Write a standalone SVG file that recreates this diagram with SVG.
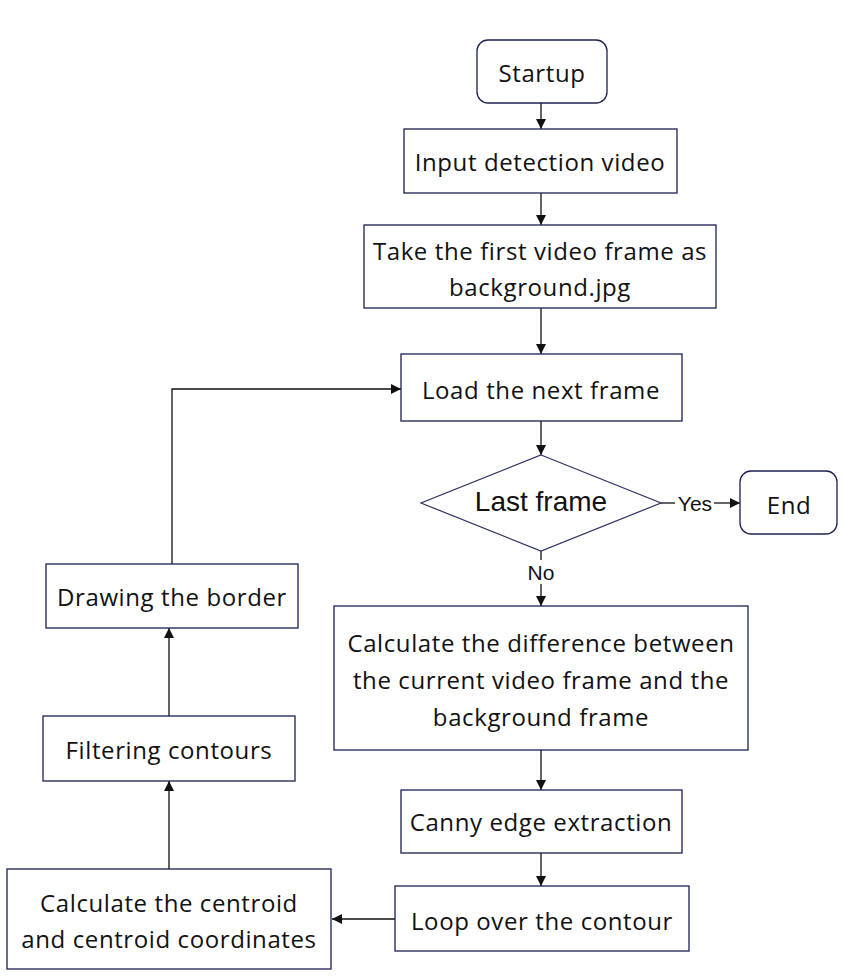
<svg xmlns="http://www.w3.org/2000/svg" width="844" height="977" viewBox="0 0 844 977">
<style>
.box{fill:#fff;stroke:#1c1f52;stroke-width:1.3}
.dia{fill:#fff;stroke:#2e3266;stroke-width:1.2}
.t{font-family:"Open Sans",Lato,sans-serif;font-size:24px;letter-spacing:0.6px;fill:#111;text-anchor:middle;dominant-baseline:central}
.a{font-family:"Liberation Sans",Arial,sans-serif;fill:#111;text-anchor:middle;dominant-baseline:central}
.ln{fill:none;stroke:#111;stroke-width:1.3}
</style>
<defs>
<marker id="ah" viewBox="0 0 10 10" refX="10" refY="5" markerWidth="10" markerHeight="10" markerUnits="userSpaceOnUse" orient="auto">
<path d="M0,0 L10,5 L0,10 Z" fill="#111"/>
</marker>
</defs>
<g id="connectors">
<line class="ln" x1="541" y1="103" x2="541" y2="129" marker-end="url(#ah)"/>
<line class="ln" x1="541" y1="193" x2="541" y2="225" marker-end="url(#ah)"/>
<line class="ln" x1="541" y1="308" x2="541" y2="354" marker-end="url(#ah)"/>
<line class="ln" x1="541" y1="421" x2="541" y2="455" marker-end="url(#ah)"/>
<line class="ln" x1="661" y1="503" x2="675" y2="503"/>
<text class="a" x="695" y="503" font-size="21">Yes</text>
<line class="ln" x1="714" y1="503" x2="740" y2="503" marker-end="url(#ah)"/>
<line class="ln" x1="541" y1="551" x2="541" y2="560"/>
<text class="a" x="541" y="572" font-size="21">No</text>
<line class="ln" x1="541" y1="584" x2="541" y2="606" marker-end="url(#ah)"/>
<line class="ln" x1="541" y1="750" x2="541" y2="790" marker-end="url(#ah)"/>
<line class="ln" x1="541" y1="853" x2="541" y2="886" marker-end="url(#ah)"/>
<line class="ln" x1="395" y1="919" x2="332" y2="919" marker-end="url(#ah)"/>
<line class="ln" x1="169" y1="869" x2="169" y2="781" marker-end="url(#ah)"/>
<line class="ln" x1="169" y1="716" x2="169" y2="628" marker-end="url(#ah)"/>
<polyline class="ln" points="172,564 172,389 401,389" marker-end="url(#ah)"/>
</g>
<g id="startup"><rect class="box" x="477" y="40" width="130" height="63" rx="11"/><text class="t" x="542" y="72">Startup</text></g>
<g id="input"><rect class="box" x="404" y="129" width="273" height="64"/><text class="t" x="540" y="161">Input detection video</text></g>
<g id="first"><rect class="box" x="364" y="225" width="352" height="83"/><text class="t" x="540" y="250">Take the first video frame as</text><text class="t" x="540" y="286">background.jpg</text></g>
<g id="load"><rect class="box" x="401" y="354" width="281" height="67"/><text class="t" x="541" y="389">Load the next frame</text></g>
<g id="last"><polygon class="dia" points="541,455 661,503 541,551 421,503"/><text class="a" x="541" y="501" font-size="28">Last frame</text></g>
<g id="end"><rect class="box" x="740" y="471" width="97" height="63" rx="11"/><text class="t" x="789" y="504">End</text></g>
<g id="diff"><rect class="box" x="334" y="606" width="414" height="144"/><text class="t" x="541" y="642">Calculate the difference between</text><text class="t" x="541" y="679">the current video frame and the</text><text class="t" x="541" y="716">background frame</text></g>
<g id="canny"><rect class="box" x="401" y="790" width="281" height="63"/><text class="t" x="541" y="821">Canny edge extraction</text></g>
<g id="loop"><rect class="box" x="395" y="886" width="294" height="65"/><text class="t" x="542" y="920">Loop over the contour</text></g>
<g id="centroid"><rect class="box" x="7" y="869" width="324" height="100"/><text class="t" x="169" y="902">Calculate the centroid</text><text class="t" x="169" y="938">and centroid coordinates</text></g>
<g id="filter"><rect class="box" x="43" y="716" width="252" height="65"/><text class="t" x="169" y="749">Filtering contours</text></g>
<g id="border"><rect class="box" x="46" y="564" width="252" height="64"/><text class="t" x="172" y="596">Drawing the border</text></g>
</svg>
